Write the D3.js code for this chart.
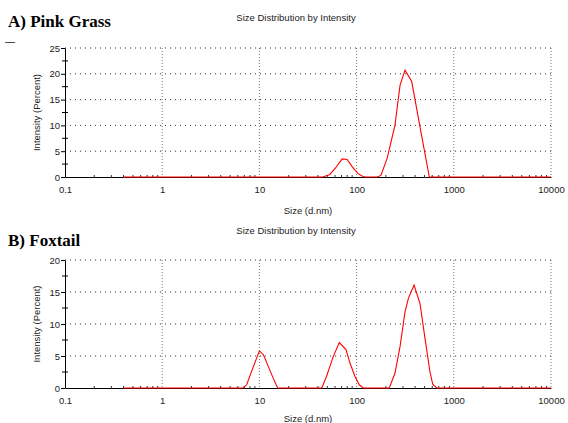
<!DOCTYPE html>
<html lang="en">
<head>
<meta charset="UTF-8">
<title>Size Distribution by Intensity</title>
<script src="https://d3js.org/d3.v7.min.js"></script>
<style>
  body { margin: 0; background: #fff; }
  svg text { font-family: "Liberation Sans", Arial, sans-serif; fill: #222; }
  .panel-title { font-family: "Liberation Serif", "Times New Roman", serif !important; font-weight: bold; fill: #000 !important; }
</style>
</head>
<body>
<svg id="chart" width="568" height="423"></svg>
<script>
// x tick labels (log scale, d.nm)
const sizeTicks = [0.1, 1, 10, 100, 1000, 10000];
const sizeTickLabels = ["0.1", "1", "10", "100", "1000", "10000"];

// A) Pink Grass
const pinkSize = [0.4, 45, 53, 61, 71, 80, 90, 103, 116, 125, 162, 178, 206, 248, 280, 315, 369, 449, 560, 10000];
const pinkIntensity = [0, 0, 0.5, 1.8, 3.5, 3.4, 2.0, 0.7, 0.1, 0, 0, 0.3, 3.6, 10, 17.8, 20.7, 18.5, 9.7, 0, 0];
const pinkYTicks = [0, 5, 10, 15, 20, 25];

// B) Foxtail
const foxSize = [0.4, 6.8, 7.4, 8.65, 10, 11, 12.4, 13.9, 15.4, 43.8, 49, 57.5, 66.4, 77.8, 85.5, 96.2, 106.6, 117,
                 217, 248, 280, 315, 341, 390, 449, 505, 569, 607, 667, 10000];
const foxIntensity = [0, 0, 0.5, 3.3, 5.8, 5.2, 3.3, 1.5, 0, 0, 1.8, 4.9, 7.1, 6.0, 3.9, 1.8, 0.5, 0,
                      0, 2.3, 6.5, 11.9, 14.0, 16.1, 13.2, 7.8, 2.5, 0.6, 0, 0];
const foxYTicks = [0, 5, 10, 15, 20];

const svg = d3.select("#chart");

function drawPanel(opt) {
    const g = svg.append("g");
    const x = d3.scaleLog().domain([0.1, 10000]).range([65, 551]);
    const y = d3.scaleLinear().domain([0, opt.ymax]).range([opt.bottom, opt.top]);

    // panel label + title
    g.append("text").attr("class", "panel-title")
        .attr("x", 8).attr("y", opt.labelY)
        .style("font-size", "17px")
        .text(opt.label);
    g.append("text")
        .attr("x", 296).attr("y", opt.titleY)
        .attr("text-anchor", "middle")
        .style("font-size", "9.5px")
        .text("Size Distribution by Intensity");

    // horizontal dotted grid
    g.selectAll(".hgrid").data(opt.yTicks.filter(d => d > 0)).enter()
        .append("line")
        .attr("x1", x(0.1)).attr("x2", x(10000))
        .attr("y1", d => y(d)).attr("y2", d => y(d))
        .attr("stroke", "#333").attr("stroke-width", 1)
        .attr("stroke-dasharray", "1,4");

    // vertical dotted grid at decades
    g.selectAll(".vgrid").data(sizeTicks.slice(1)).enter()
        .append("line")
        .attr("x1", d => x(d)).attr("x2", d => x(d))
        .attr("y1", y(opt.ymax)).attr("y2", y(0))
        .attr("stroke", "#777").attr("stroke-width", 1)
        .attr("stroke-dasharray", "1,2");

    // y axis
    const yAxis = g.append("g")
        .attr("transform", `translate(${x(0.1)},0)`)
        .call(d3.axisLeft(y).tickValues(opt.yTicks).tickSize(4).tickPadding(1).tickSizeOuter(0));
    yAxis.select(".domain").attr("stroke", "#000");
    yAxis.selectAll("text").style("font-size", "9.5px").attr("fill", "#222");

    // minor y ticks
    g.selectAll(".ymin").data(opt.yTicks.slice(0, -1).map(d => d + 2.5)).enter()
        .append("line")
        .attr("x1", x(0.1) - 3).attr("x2", x(0.1) + 3)
        .attr("y1", d => y(d)).attr("y2", d => y(d))
        .attr("stroke", "#000");

    // x axis
    const xAxis = g.append("g")
        .attr("transform", `translate(0,${y(0)})`)
        .call(d3.axisBottom(x).tickValues(sizeTicks).tickFormat((d, i) => sizeTickLabels[i])
              .tickSize(0).tickPadding(9).tickSizeOuter(0));
    xAxis.select(".domain").attr("stroke", "#000");
    xAxis.selectAll("text").style("font-size", "9.5px").attr("fill", "#222");

    // minor x ticks
    const minor = [];
    sizeTicks.slice(0, -1).forEach(d => { for (let k = 2; k <= 9; k++) minor.push(d * k); });
    g.selectAll(".xmin").data(minor).enter()
        .append("line")
        .attr("x1", d => x(d)).attr("x2", d => x(d))
        .attr("y1", y(0) - 2).attr("y2", y(0) + 1)
        .attr("stroke", "#333");

    // axis titles
    g.append("text")
        .attr("transform", `translate(40,${(y(0) + y(opt.ymax)) / 2}) rotate(-90)`)
        .attr("text-anchor", "middle")
        .style("font-size", "9.5px")
        .text("Intensity (Percent)");
    g.append("text")
        .attr("x", 308).attr("y", opt.xLabelY)
        .attr("text-anchor", "middle")
        .style("font-size", "9.5px")
        .text("Size (d.nm)");

    // distribution line
    const line = d3.line().x((d, i) => x(opt.sizes[i])).y(d => y(d));
    g.append("path")
        .datum(opt.values)
        .attr("d", line)
        .attr("fill", "none")
        .attr("stroke", "#ff0000")
        .attr("stroke-width", 1.1);
}

drawPanel({
    label: "A) Pink Grass", labelY: 27, titleY: 21,
    top: 48, bottom: 177, ymax: 25, yTicks: pinkYTicks,
    xLabelY: 214, sizes: pinkSize, values: pinkIntensity
});

drawPanel({
    label: "B) Foxtail", labelY: 246, titleY: 234,
    top: 260, bottom: 388, ymax: 20, yTicks: foxYTicks,
    xLabelY: 422, sizes: foxSize, values: foxIntensity
});

// cropped fragment left of the top panel in the source image
svg.append("text").attr("x", 5).attr("y", 45)
    .style("font-size", "10px").attr("fill", "#000").text("—");
</script>
</body>
</html>
